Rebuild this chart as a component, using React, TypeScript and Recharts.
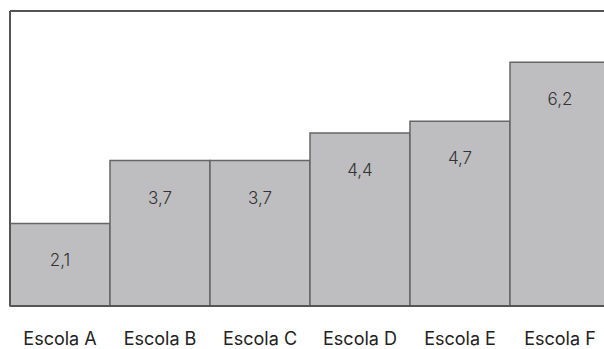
import { BarChart, Bar, XAxis, YAxis, ReferenceLine, LabelList } from 'recharts';

const escolas = ['Escola A', 'Escola B', 'Escola C', 'Escola D', 'Escola E', 'Escola F'];
const notas = [2.1, 3.7, 3.7, 4.4, 4.7, 6.2];
const yDomain = [0, 7.5];

const data = escolas.map((escola, i) => ({ escola, nota: notas[i] }));

const fmt = (v: number | string) => String(v).replace('.', ',');

export default function App() {
  return (
    <div style={{ position: 'absolute', left: 0, top: 0, width: 604, height: 349, overflow: 'hidden', background: '#fff', fontFamily: 'Inter, sans-serif' }}>
      <BarChart
        width={620}
        height={349}
        data={data}
        barCategoryGap={0}
        margin={{ top: 11, right: 10, left: 9, bottom: 12 }}
      >
        <XAxis
          dataKey="escola"
          height={31}
          axisLine={{ stroke: '#555', strokeWidth: 2 }}
          tickLine={false}
          tickSize={0}
          tickMargin={26}
          tick={{ fontSize: 18, fill: '#222' }}
        />
        <YAxis
          domain={yDomain}
          width={1}
          tick={false}
          tickLine={false}
          axisLine={{ stroke: '#555', strokeWidth: 2 }}
        />
        <ReferenceLine y={yDomain[1]} stroke="#555" strokeWidth={2} />
        <Bar dataKey="nota" fill="#bebec0" stroke="#666" strokeWidth={1.5} isAnimationActive={false}>
          <LabelList dataKey="nota" position="insideTop" offset={31} formatter={fmt} style={{ fontSize: 17, fill: '#333', fontWeight: 300 }} />
        </Bar>
      </BarChart>
    </div>
  );
}
